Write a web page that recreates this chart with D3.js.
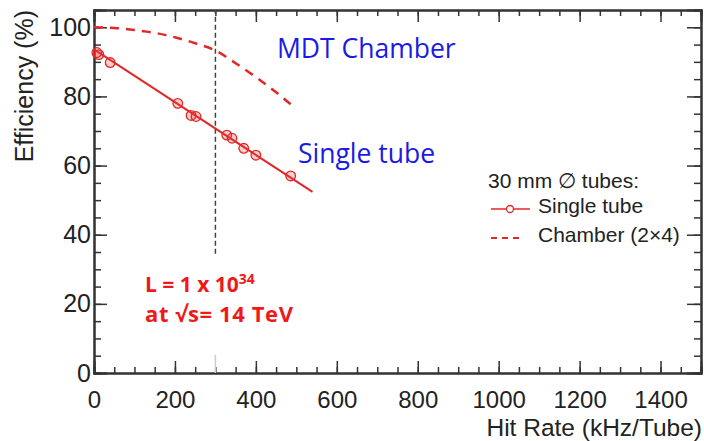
<!DOCTYPE html>
<html>
<head>
<meta charset="utf-8">
<script src="https://cdn.jsdelivr.net/npm/d3@7"></script>
<style>
  html, body { margin: 0; padding: 0; background: #fff; }
  svg { display: block; }
  text { font-family: "Liberation Sans", Arial, sans-serif; }
</style>
</head>
<body>
<svg id="chart" width="704" height="441"></svg>
<script>
// single tube measurements
const tubeRate = [7, 12, 40, 207, 240, 252, 328, 341, 370, 400, 486];
const tubeEff = [92.7, 92.1, 89.8, 78.0, 74.5, 74.2, 68.8, 67.9, 65.0, 63.0, 57.0];

// linear fit through the single tube points
const fitRate = [0, 540];
const fitEff = [93.6, 52.4];

// chamber (2x4) efficiency
const chamberRate = [0, 50, 100, 150, 200, 250, 300, 350, 400, 450, 497];
const chamberEff = [100, 99.8, 99.2, 98.4, 97.1, 95.4, 93.3, 89.6, 85.6, 81.2, 76.6];

// nominal luminosity marker
const markerRate = 300;
const markerEff = [34.5, 105];

const xTicks = [0, 200, 400, 600, 800, 1000, 1200, 1400];
const yTicks = [0, 20, 40, 60, 80, 100];

const svg = d3.select("#chart");
const mLeft = 94, mRight = 701, mTop = 10, mBottom = 373;

const x = d3.scaleLinear().domain([0, 1500]).range([mLeft, mRight]);
const y = d3.scaleLinear().domain([0, 105]).range([mBottom, mTop]);

const axisColor = "#333";
const red = "#e02828";

const styleAxis = (g, size = 25) => {
  g.select(".domain").attr("stroke", axisColor).attr("stroke-width", 2);
  g.selectAll(".tick line").attr("stroke", axisColor).attr("stroke-width", 1.5);
  g.selectAll(".tick text")
    .attr("fill", "#222")
    .style("font-family", "'Liberation Sans', Arial, sans-serif")
    .style("font-size", `${size}px`);
};

const minorX = d3.range(0, 1501, 50);
const minorY = d3.range(0, 106, 5);

// minor ticks
svg.append("g").attr("transform", `translate(0,${mBottom})`)
  .call(d3.axisBottom(x).tickValues(minorX).tickSize(-6).tickFormat(""))
  .call(styleAxis);
svg.append("g").attr("transform", `translate(0,${mTop})`)
  .call(d3.axisTop(x).tickValues(minorX).tickSize(-6).tickFormat(""))
  .call(styleAxis);
svg.append("g").attr("transform", `translate(${mLeft},0)`)
  .call(d3.axisLeft(y).tickValues(minorY).tickSize(-7).tickFormat(""))
  .call(styleAxis);
svg.append("g").attr("transform", `translate(${mRight},0)`)
  .call(d3.axisRight(y).tickValues(minorY).tickSize(-7).tickFormat(""))
  .call(styleAxis);

// major ticks
svg.append("g").attr("transform", `translate(0,${mBottom})`)
  .call(d3.axisBottom(x).tickValues(xTicks).tickSize(-12).tickPadding(18).tickFormat(d3.format("d")))
  .call((g) => styleAxis(g, 24));
svg.append("g").attr("transform", `translate(0,${mTop})`)
  .call(d3.axisTop(x).tickValues(xTicks).tickSize(-12).tickFormat(""))
  .call(styleAxis);
svg.append("g").attr("transform", `translate(${mLeft},0)`)
  .call(d3.axisLeft(y).tickValues(yTicks).tickSize(-13).tickPadding(3))
  .call(styleAxis);
svg.append("g").attr("transform", `translate(${mRight},0)`)
  .call(d3.axisRight(y).tickValues(yTicks).tickSize(-14).tickFormat(""))
  .call(styleAxis);

// axis titles
svg.append("text")
  .attr("transform", `translate(33,${mTop}) rotate(-90)`)
  .attr("text-anchor", "end")
  .attr("font-size", 25)
  .attr("fill", "#222")
  .text("Efficiency (%)");

svg.append("text")
  .attr("x", 702).attr("y", 436)
  .attr("text-anchor", "end")
  .attr("font-size", 24.5)
  .attr("fill", "#222")
  .text("Hit Rate (kHz/Tube)");

// luminosity marker
svg.append("line")
  .attr("x1", x(markerRate)).attr("x2", x(markerRate))
  .attr("y1", y(markerEff[0])).attr("y2", y(markerEff[1]))
  .attr("stroke", "#444").attr("stroke-width", 1.5)
  .attr("stroke-dasharray", "5,3");
svg.append("line")
  .attr("x1", x(markerRate)).attr("x2", x(markerRate))
  .attr("y1", y(0)).attr("y2", y(5.3))
  .attr("stroke", "#ccc").attr("stroke-width", 1.5);

// chamber curve
const line = d3.line().curve(d3.curveMonotoneX)
  .x((d) => x(d[0])).y((d) => y(d[1]));

svg.append("path")
  .attr("d", line(d3.zip(chamberRate, chamberEff)))
  .attr("fill", "none")
  .attr("stroke", red).attr("stroke-width", 2.5)
  .attr("stroke-dasharray", "9,7");

// fit line
svg.append("path")
  .attr("d", d3.line().x((d) => x(d[0])).y((d) => y(d[1]))(d3.zip(fitRate, fitEff)))
  .attr("fill", "none")
  .attr("stroke", red).attr("stroke-width", 2);

// data points
svg.append("g").selectAll("circle")
  .data(d3.zip(tubeRate, tubeEff))
  .join("circle")
  .attr("cx", (d) => x(d[0]))
  .attr("cy", (d) => y(d[1]))
  .attr("r", 4.8)
  .attr("fill", "rgba(230,60,60,0.25)")
  .attr("stroke", red).attr("stroke-width", 1.3);

// annotations
const blue = "#1a1ae6";
svg.append("text")
  .attr("x", 277).attr("y", 58)
  .style("font-family", "'Open Sans', sans-serif")
  .attr("font-size", 26.5).attr("fill", blue)
  .text("MDT Chamber");
svg.append("text")
  .attr("x", 298).attr("y", 163)
  .style("font-family", "'Open Sans', sans-serif")
  .attr("font-size", 26.5).attr("fill", blue)
  .text("Single tube");

const lumi = svg.append("text")
  .attr("x", 145).attr("y", 292)
  .style("font-family", "'Open Sans', sans-serif")
  .attr("font-size", 21).attr("font-weight", "bold").attr("fill", "#f01818");
lumi.append("tspan").text("L = 1 x 10");
lumi.append("tspan").attr("dy", -8).attr("font-size", 14).text("34");

svg.append("text")
  .attr("x", 145).attr("y", 322)
  .style("font-family", "'Open Sans', sans-serif")
  .attr("font-size", 22).attr("font-weight", "bold").attr("fill", "#f01818")
  .attr("letter-spacing", 0.6)
  .text("at \u221As= 14 TeV");

// legend
const legend = svg.append("g").attr("font-size", 21).attr("fill", "#222");
legend.append("text").attr("x", 488).attr("y", 188).text("30 mm \u2205 tubes:");
legend.append("text").attr("x", 538).attr("y", 213).text("Single tube");
legend.append("text").attr("x", 538).attr("y", 242).text("Chamber (2\u00d74)");

legend.append("line")
  .attr("x1", 491).attr("x2", 530).attr("y1", 209).attr("y2", 209)
  .attr("stroke", red).attr("stroke-width", 1.5);
legend.append("circle")
  .attr("cx", 510).attr("cy", 209).attr("r", 3.5)
  .attr("fill", "#fff").attr("stroke", red).attr("stroke-width", 1.3);
legend.append("line")
  .attr("x1", 491).attr("x2", 524).attr("y1", 238).attr("y2", 238)
  .attr("stroke", red).attr("stroke-width", 2)
  .attr("stroke-dasharray", "6,5");
</script>
</body>
</html>
